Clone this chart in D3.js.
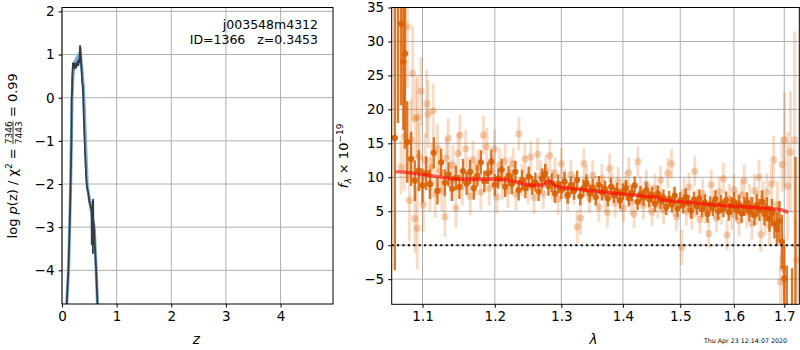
<!DOCTYPE html>
<html>
<head>
<meta charset="utf-8">
<script src="https://cdn.jsdelivr.net/npm/d3@7"></script>
<style>
  body { margin: 0; background: #fff; }
  text { font-family: "DejaVu Sans", sans-serif; }
</style>
</head>
<body>
<svg id="fig" width="800" height="350"></svg>
<script>
// ---- p(z) panel data ----
const zSmooth = [0.085, 0.12, 0.14, 0.158, 0.172, 0.182, 0.20, 0.23, 0.27, 0.31, 0.34, 0.37, 0.39, 0.41, 0.43, 0.46, 0.50, 0.54, 0.59, 0.625, 0.65];
const pSmooth = [-4.8, -4.0, -3.0, -2.0, -1.0, -0.1, 0.5, 0.8, 0.92, 1.0, 0.95, 0.6, 0.25, -0.3, -1.0, -2.0, -2.35, -2.65, -3.0, -4.0, -4.8];
const zRaw = [0.085, 0.12, 0.14, 0.158, 0.172, 0.178, 0.183, 0.19, 0.20, 0.21, 0.22, 0.232, 0.245, 0.26, 0.275, 0.29, 0.30, 0.31, 0.32, 0.325, 0.33, 0.335, 0.34, 0.35, 0.36, 0.37, 0.38, 0.39, 0.40, 0.42, 0.44, 0.46, 0.48, 0.50, 0.52, 0.54, 0.545, 0.55, 0.555, 0.56, 0.565, 0.57, 0.575, 0.58, 0.59, 0.60, 0.625, 0.65];
const pRaw = [-4.8, -3.9, -3.0, -2.0, -0.95, -0.05, 0.1, 0.55, 0.8, 0.78, 0.72, 0.68, 0.8, 0.7, 0.78, 0.85, 0.75, 0.9, 0.82, 1.0, 1.2, 0.85, 1.15, 0.8, 0.6, 0.35, 0.3, 0.0, -0.5, -1.2, -1.8, -2.1, -2.2, -2.4, -2.5, -2.6, -3.4, -2.55, -3.2, -2.4, -3.6, -2.36, -3.0, -2.9, -3.1, -3.4, -4.0, -4.8];
const zTicks = [0, 1, 2, 3, 4];
const pTicks = [-4, -3, -2, -1, 0, 1, 2];

// ---- spectrum panel data: [lambda, flux, err] ----
const binned = [
  [1.064,15.8,19.5],[1.068,38,20],[1.072,32.6,12],[1.075,27.0,10],[1.077,28.2,14],
  [1.080,15.2,6],[1.085,12.7,4],[1.090,9.5,3],[1.095,11.0,3],[1.100,8.8,2.5],
  [1.105,10.6,2.5],[1.110,9.0,2.2],[1.115,13.6,2.3],[1.120,8.0,2],[1.125,12.2,2],
  [1.130,9.2,2],[1.135,10.4,1.8],[1.140,8.3,1.8],[1.145,9.9,1.8],[1.150,8.6,1.8],
  [1.155,10.9,1.8],[1.160,9.1,1.7],[1.165,10.8,1.8],[1.170,8.4,1.7],[1.175,10.2,1.6],
  [1.180,12.2,1.8],[1.185,9.4,1.6],[1.190,10.6,1.6],[1.195,12.3,1.8],[1.200,8.9,1.6],
  [1.205,9.8,1.5],[1.210,11.1,1.6],[1.215,8.6,1.5],[1.220,10.2,1.5],[1.225,9.0,1.5],
  [1.230,10.8,1.6],[1.235,8.1,1.5],[1.240,9.6,1.5],[1.245,8.4,1.5],[1.250,10.1,1.5],
  [1.255,8.8,1.4],[1.260,9.3,1.4],[1.265,7.9,1.4],[1.270,9.8,1.5],[1.275,10.5,1.5],
  [1.280,8.7,1.4],[1.285,9.2,1.4],[1.290,7.6,1.4],[1.295,9.0,1.4],[1.300,8.1,1.3],
  [1.305,9.4,1.4],[1.310,7.4,1.3],[1.315,8.8,1.3],[1.320,8.0,1.3],[1.325,9.6,1.4],
  [1.330,7.2,1.3],[1.335,8.4,1.3],[1.340,9.1,1.3],[1.345,7.6,1.3],[1.350,8.5,1.3],
  [1.355,7.1,1.2],[1.360,8.9,1.3],[1.365,7.8,1.2],[1.370,8.3,1.2],[1.375,6.9,1.2],
  [1.380,8.6,1.3],[1.385,7.4,1.2],[1.390,8.0,1.2],[1.395,6.6,1.2],[1.400,7.9,1.2],
  [1.405,8.4,1.2],[1.410,6.9,1.2],[1.415,7.7,1.2],[1.420,8.8,1.3],[1.425,6.4,1.2],
  [1.430,7.5,1.2],[1.435,7.0,1.2],[1.440,8.1,1.2],[1.445,6.8,1.2],[1.450,7.4,1.2],
  [1.455,6.1,1.2],[1.460,7.6,1.2],[1.465,6.5,1.2],[1.470,7.0,1.2],[1.475,5.6,1.2],
  [1.480,6.8,1.2],[1.485,6.0,1.2],[1.490,7.3,1.3],[1.495,5.4,1.2],[1.500,6.6,1.2],
  [1.505,5.9,1.2],[1.510,7.1,1.3],[1.515,6.2,1.2],[1.520,5.1,1.2],[1.525,6.7,1.2],
  [1.530,5.7,1.2],[1.535,6.9,1.3],[1.540,5.3,1.2],[1.545,6.3,1.2],[1.550,4.6,1.3],
  [1.555,6.0,1.2],[1.560,5.5,1.2],[1.565,6.8,1.3],[1.570,5.0,1.3],[1.575,6.1,1.3],
  [1.580,5.4,1.3],[1.585,6.6,1.3],[1.590,4.9,1.3],[1.595,5.8,1.3],[1.600,6.4,1.4],
  [1.605,5.2,1.4],[1.610,6.0,1.4],[1.615,4.7,1.4],[1.620,5.7,1.4],[1.625,6.3,1.5],
  [1.630,5.0,1.5],[1.635,5.6,1.5],[1.640,4.4,1.5],[1.645,5.9,1.6],[1.650,5.2,1.6],
  [1.655,6.4,1.7],[1.660,4.6,1.7],[1.665,5.3,1.8],[1.670,3.9,1.9],[1.675,4.8,2.0],
  [1.680,3.2,2.2],[1.685,2.4,2.5],[1.690,3.5,3],[1.695,0.5,4],[1.700,-4.9,5],
  [1.705,-9.0,6],[1.716,-12,8.6],[1.723,-15,28]
];

const unbinned = [
  [1.0719,11.5,4],[1.0760,16.0,8],[1.0801,32.2,9],[1.0828,6.6,6],[1.0850,15.5,6],
  [1.0871,25.3,7],[1.0901,3.9,5],[1.0910,18.6,6],[1.0931,2.5,6],[1.0936,18.9,6],
  [1.0960,13.0,5],[1.0980,22.7,5],[1.1010,6.0,4],[1.1035,12.5,4],[1.1055,20.8,5],
  [1.1076,19.3,5],[1.1100,9.0,4],[1.1120,11.5,3.5],[1.1143,19.8,4],[1.1170,7.5,3.5],
  [1.1200,14.3,3.5],[1.1230,10.8,3],[1.1260,8.0,3],[1.1300,4.2,3],[1.1320,12.8,3],
  [1.1346,15.7,3],[1.1380,9.5,3],[1.1410,11.8,3],[1.1452,5.5,3],[1.1480,13.5,3],
  [1.1507,16.2,3],[1.1540,8.6,2.8],[1.1587,14.2,2.8],[1.1620,10.2,2.8],[1.1650,7.2,2.8],
  [1.1690,12.6,2.8],[1.1720,9.8,2.6],[1.1760,11.5,2.6],[1.1800,7.8,2.6],[1.1837,16.2,2.8],
  [1.1885,14.5,2.8],[1.1920,8.4,2.6],[1.1960,10.9,2.5],[1.1996,14.2,2.8],[1.2030,7.1,2.5],
  [1.2070,11.8,2.5],[1.2110,9.2,2.5],[1.2150,12.4,2.5],[1.2190,8.0,2.5],[1.2230,10.6,2.4],
  [1.2270,12.0,2.4],[1.2310,7.5,2.4],[1.2353,16.4,2.5],[1.2400,9.6,2.4],[1.2443,12.7,2.4],
  [1.2490,8.5,2.4],[1.2530,13.0,2.4],[1.2580,7.0,2.4],[1.2634,13.4,2.4],[1.2680,10.2,2.3],
  [1.2720,7.6,2.3],[1.2760,11.0,2.3],[1.2822,13.2,2.4],[1.2860,8.8,2.3],[1.2900,10.6,2.3],
  [1.2950,6.8,2.3],[1.3003,12.0,2.3],[1.3050,9.0,2.2],[1.3100,7.2,2.2],[1.3150,10.4,2.2],
  [1.3200,8.2,2.2],[1.3251,2.7,2.5],[1.3304,4.0,2.5],[1.3358,12.0,2.3],[1.3400,9.5,2.2],
  [1.3450,6.9,2.2],[1.3500,10.3,2.2],[1.3550,8.0,2.2],[1.3600,5.6,2.2],[1.3650,9.8,2.2],
  [1.3700,7.3,2.2],[1.3740,4.8,2.2],[1.3779,11.3,2.2],[1.3820,8.6,2.1],[1.3870,6.2,2.1],
  [1.3920,9.4,2.1],[1.3960,7.0,2.1],[1.4010,5.5,2.1],[1.4050,8.8,2.1],[1.4098,10.7,2.2],
  [1.4140,6.5,2.1],[1.4190,4.6,2.1],[1.4255,12.3,2.2],[1.4300,8.0,2.1],[1.4350,5.9,2.1],
  [1.4400,9.0,2.1],[1.4450,6.8,2.1],[1.4500,4.9,2.1],[1.4550,8.4,2.1],[1.4600,6.0,2.1],
  [1.4650,9.6,2.1],[1.4700,5.2,2.1],[1.4778,10.6,2.2],[1.4842,12.0,2.2],[1.4880,6.4,2.1],
  [1.4930,4.2,2.1],[1.5029,-0.3,2.6],[1.5070,7.8,2.1],[1.5110,5.0,2.1],[1.5160,8.6,2.1],
  [1.5210,4.4,2.1],[1.5263,10.9,2.2],[1.5310,6.2,2.1],[1.5360,3.8,2.1],[1.5410,7.6,2.1],
  [1.5460,5.3,2.1],[1.5524,1.7,2.2],[1.5570,8.9,2.2],[1.5620,6.0,2.1],[1.5670,4.0,2.1],
  [1.5720,7.9,2.2],[1.5760,5.2,2.2],[1.5800,9.8,2.3],[1.5870,1.5,2.3],[1.5910,6.8,2.2],
  [1.5960,4.5,2.2],[1.6000,8.2,2.3],[1.6050,5.8,2.3],[1.6100,3.6,2.3],[1.6150,7.4,2.3],
  [1.6200,9.5,2.4],[1.6250,4.9,2.4],[1.6300,6.6,2.4],[1.6350,3.2,2.4],[1.6400,8.0,2.5],
  [1.6450,5.5,2.5],[1.6490,10.0,2.6],[1.6528,1.6,2.6],[1.6570,6.9,2.6],[1.6610,4.2,2.7],
  [1.6650,7.8,2.8],[1.6700,2.9,3],[1.6740,9.0,3],[1.6784,12.6,3.5],[1.6860,6.0,3.5],
  [1.6921,-5.4,4],[1.6955,11.9,4],[1.6975,-3.4,5],[1.7004,15.5,7],[1.7071,8.7,8],
  [1.7128,13.7,9],[1.7212,15.5,16],[1.7249,-2.2,6]
];

const modelLam = [1.067, 1.08, 1.10, 1.12, 1.14, 1.16, 1.18, 1.20, 1.22, 1.235, 1.245, 1.26, 1.272, 1.28, 1.29, 1.30, 1.32, 1.34, 1.36, 1.38, 1.40, 1.42, 1.44, 1.46, 1.468, 1.48, 1.50, 1.52, 1.54, 1.56, 1.58, 1.60, 1.62, 1.64, 1.66, 1.68, 1.695, 1.705];
const modelFlux = [10.8, 10.7, 10.4, 10.1, 9.8, 9.7, 9.7, 9.7, 9.6, 9.2, 8.95, 8.8, 8.9, 9.5, 8.8, 8.5, 8.3, 8.1, 7.9, 7.7, 7.55, 7.35, 7.2, 7.05, 6.65, 6.55, 6.4, 6.3, 6.1, 5.95, 5.85, 5.75, 5.65, 5.55, 5.45, 5.35, 5.2, 4.9];
const lamTicks = [1.1, 1.2, 1.3, 1.4, 1.5, 1.6, 1.7];
const fluxTicks = [-5, 0, 5, 10, 15, 20, 25, 30, 35];

const svg = d3.select("#fig");
const gridColor = "#b0b0b0";
const fs = 12.5;
const tickFs = 13.5;
const orange = "#d95f02";

function frame(box, id) {
  svg.append("clipPath").attr("id", id)
    .append("rect").attr("x", box.x0).attr("y", box.y0)
    .attr("width", box.x1 - box.x0).attr("height", box.y1 - box.y0);
}

function drawGrid(box, xs, ys, xt, yt) {
  const grid = svg.append("g");
  grid.selectAll(".gx").data(xt).enter().append("line")
    .attr("x1", d => xs(d)).attr("x2", d => xs(d))
    .attr("y1", box.y0).attr("y2", box.y1)
    .attr("stroke", gridColor).attr("stroke-width", 1);
  grid.selectAll(".gy").data(yt).enter().append("line")
    .attr("x1", box.x0).attr("x2", box.x1)
    .attr("y1", d => ys(d)).attr("y2", d => ys(d))
    .attr("stroke", gridColor).attr("stroke-width", 1);
}

function drawTicks(box, xs, ys, xt, yt, xfmt, yfmt) {
  const ax = svg.append("g")
    .attr("transform", `translate(0,${box.y1})`)
    .call(d3.axisBottom(xs).tickValues(xt).tickFormat(xfmt).tickSize(3.5).tickPadding(3.5).tickSizeOuter(0));
  const ay = svg.append("g")
    .attr("transform", `translate(${box.x0},0)`)
    .call(d3.axisLeft(ys).tickValues(yt).tickFormat(yfmt).tickSize(3.5).tickPadding(4).tickSizeOuter(0));
  [ax, ay].forEach(a => {
    a.select(".domain").remove();
    a.selectAll("text").attr("font-size", tickFs).attr("fill", "#000")
      .attr("font-family", "DejaVu Sans, sans-serif");
    a.selectAll("line").attr("stroke", "#000");
  });
  svg.append("rect")
    .attr("x", box.x0).attr("y", box.y0)
    .attr("width", box.x1 - box.x0).attr("height", box.y1 - box.y0)
    .attr("fill", "none").attr("stroke", "#000").attr("stroke-width", 1);
}

// ================= left panel: p(z) =================
const L = { x0: 62, x1: 333, y0: 7.5, y1: 304 };
const xz = d3.scaleLinear().domain([0, 4.96]).range([L.x0, L.x1]);
const yp = d3.scaleLinear().domain([-4.78, 2.09]).range([L.y1, L.y0]);
frame(L, "clipL");
drawGrid(L, xz, yp, zTicks, pTicks);

const pz = svg.append("g").attr("clip-path", "url(#clipL)");
const line = d3.line().x(d => xz(d[0])).y(d => yp(d[1]));
pz.append("path")
  .attr("d", line(zSmooth.map((z, i) => [z, pSmooth[i]])))
  .attr("fill", "none").attr("stroke", "#7fb2d9").attr("stroke-width", 3.2);
pz.append("path")
  .attr("d", line(zRaw.map((z, i) => [z, pRaw[i]])))
  .attr("fill", "none").attr("stroke", "#353c44").attr("stroke-width", 1.8)
  .attr("stroke-linejoin", "round");

drawTicks(L, xz, yp, zTicks, pTicks, d3.format("d"), d => d3.format("d")(d));

svg.append("text").attr("x", 318).attr("y", 29).attr("text-anchor", "end")
  .attr("font-size", fs).text("j003548m4312");
svg.append("text").attr("x", 318).attr("y", 44).attr("text-anchor", "end")
  .attr("font-size", fs).style("white-space", "pre").text("ID=1366   z=0.3453");

svg.append("text").attr("x", xz(2.46)).attr("y", 344).attr("text-anchor", "middle")
  .attr("font-size", 13.5).attr("font-style", "italic").text("z");

// y label with stacked fraction
const lab = svg.append("g");
const t1 = lab.append("text").attr("font-size", 13).style("white-space", "pre");
t1.append("tspan").text("log ");
t1.append("tspan").attr("font-style", "italic").text("p");
t1.append("tspan").text("(z) / χ");
t1.append("tspan").attr("font-size", 9).attr("dy", -5).text("2");
t1.append("tspan").attr("dy", 5).text(" = ");
const w1 = t1.node().getComputedTextLength();
const num = lab.append("text").attr("x", w1).attr("y", -5.5).attr("font-size", 9).text("7346");
const den = lab.append("text").attr("x", w1).attr("y", 4.5).attr("font-size", 9).text("7443");
const wf = Math.max(num.node().getComputedTextLength(), den.node().getComputedTextLength());
lab.append("line").attr("x1", w1).attr("x2", w1 + wf).attr("y1", -4).attr("y2", -4)
  .attr("stroke", "#000").attr("stroke-width", 0.8);
const t2 = lab.append("text").attr("x", w1 + wf).attr("font-size", 13)
  .style("white-space", "pre").text(" = 0.99");
const wTot = w1 + wf + t2.node().getComputedTextLength();
lab.attr("transform", `translate(17,${(L.y0 + L.y1) / 2 + wTot / 2}) rotate(-90)`);

// ================= right panel: spectrum =================
const R = { x0: 391.7, x1: 799.3, y0: 7.5, y1: 304.3 };
const xl = d3.scaleLog().domain([1.06, 1.731]).range([R.x0, R.x1]);
const yf = d3.scaleLinear().domain([-8.7, 35]).range([R.y1, R.y0]);
frame(R, "clipR");
drawGrid(R, xl, yf, lamTicks, fluxTicks);

const sp = svg.append("g").attr("clip-path", "url(#clipR)");

// unbinned points (faint)
const ub = sp.append("g");
ub.selectAll("line").data(unbinned).enter().append("line")
  .attr("x1", d => xl(d[0])).attr("x2", d => xl(d[0]))
  .attr("y1", d => yf(d[1] - d[2])).attr("y2", d => yf(d[1] + d[2]))
  .attr("stroke", orange).attr("stroke-opacity", 0.22).attr("stroke-width", 3);
ub.selectAll("circle").data(unbinned).enter().append("circle")
  .attr("cx", d => xl(d[0])).attr("cy", d => yf(d[1])).attr("r", 3.6)
  .attr("fill", orange).attr("fill-opacity", 0.28);

// binned points
const bn = sp.append("g");
bn.selectAll("line").data(binned).enter().append("line")
  .attr("x1", d => xl(d[0])).attr("x2", d => xl(d[0]))
  .attr("y1", d => yf(d[1] - d[2])).attr("y2", d => yf(d[1] + d[2]))
  .attr("stroke", orange).attr("stroke-opacity", 0.85).attr("stroke-width", 2.4);
bn.selectAll("circle").data(binned).enter().append("circle")
  .attr("cx", d => xl(d[0])).attr("cy", d => yf(d[1])).attr("r", 3.1)
  .attr("fill", orange).attr("fill-opacity", 0.9);

// zero line
sp.append("line").attr("x1", R.x0).attr("x2", R.x1)
  .attr("y1", yf(0)).attr("y2", yf(0))
  .attr("stroke", "#000").attr("stroke-width", 2).attr("stroke-dasharray", "2,3.4");

// model
const mline = d3.line().x(d => xl(d[0])).y(d => yf(d[1])).curve(d3.curveMonotoneX);
sp.append("path")
  .attr("d", mline(modelLam.map((l, i) => [l, modelFlux[i]])))
  .attr("fill", "none").attr("stroke", "#ff0000").attr("stroke-opacity", 0.6)
  .attr("stroke-width", 3.5).attr("stroke-linecap", "round");

drawTicks(R, xl, yf, lamTicks, fluxTicks, d3.format(".1f"), d => d3.format("d")(d));

svg.append("text").attr("x", (R.x0 + R.x1) / 2 - 2).attr("y", 344).attr("text-anchor", "middle")
  .attr("font-size", 13.5).attr("font-style", "italic").text("λ");

const fl = svg.append("text").attr("font-size", 13).attr("text-anchor", "middle")
  .attr("transform", `translate(348,${(R.y0 + R.y1) / 2}) rotate(-90)`);
fl.append("tspan").attr("font-style", "italic").text("f");
fl.append("tspan").attr("font-size", 9).attr("font-style", "italic").attr("dy", 3).text("λ");
fl.append("tspan").attr("dy", -3).text(" × 10");
fl.append("tspan").attr("font-size", 9).attr("dy", -5).text("−19");

svg.append("text").attr("x", 787).attr("y", 342.5).attr("text-anchor", "end")
  .attr("font-size", 6.3).text("Thu Apr 23 12:14:07 2020");
</script>
</body>
</html>
